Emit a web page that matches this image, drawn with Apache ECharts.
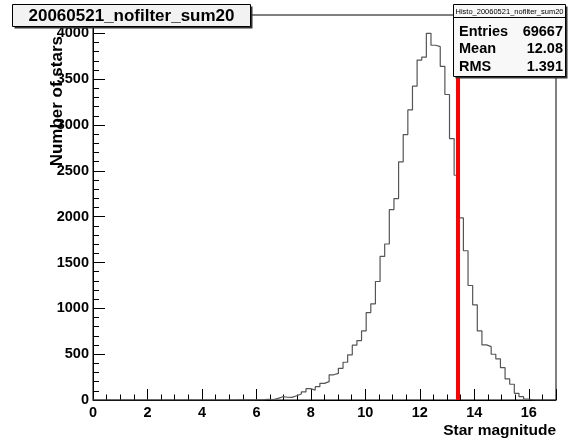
<!DOCTYPE html>
<html>
<head>
<meta charset="utf-8">
<script src="https://cdn.jsdelivr.net/npm/echarts@6/dist/echarts.min.js"></script>
<style>
  html, body { margin: 0; padding: 0; background: #fff; }
  #histoContainer { width: 571px; height: 441px; }
</style>
</head>
<body>
<div id="histoContainer"></div>
<script>
// histogram binning (100 bins over 0..17)
const binLow = 0;
const binWidth = 0.17;
const binCount = 100;
// entries per bin
const starCounts = [
  0, 0, 0, 0, 0, 0, 0, 0, 0, 0,
  0, 0, 0, 0, 0, 0, 0, 0, 0, 0,
  0, 0, 0, 0, 0, 0, 0, 0, 0, 0,
  0, 1, 1, 2, 2, 3, 4, 8, 5, 18,
  36, 30, 28, 47, 66, 88, 124, 108, 145, 182,
  200, 275, 290, 346, 412, 492, 598, 648, 754, 954,
  1049, 1293, 1566, 1702, 2077, 2197, 2598, 2896, 3165, 3424,
  3708, 3740, 4000, 3870, 3855, 3640, 3333, 2852, 2452, 1986,
  1628, 1249, 1038, 754, 601, 582, 499, 448, 353, 230,
  172, 73, 36, 11, 3, 0, 0, 0, 0, 0
];
// red cut line
const cutMagnitude = 13.4;
// stats box
const histoName = "Histo_20060521_nofilter_sum20";
const statsLabels = ["Entries", "Mean", "RMS"];
const statsValues = ["69667", "12.08", "1.391"];
const titleText = "20060521_nofilter_sum20";
const xTitle = "Star magnitude";
const yTitle = "Number of stars";

const fontFam = "'Liberation Sans', Arial, sans-serif";

// step outline points: left edge of each bin + right edge of the last one
let stepData = [];
for (let i = 0; i < binCount; i++) {
  stepData.push([binLow + i * binWidth, starCounts[i]]);
}
stepData.push([binLow + binCount * binWidth, starCounts[binCount - 1]]);

let chart = echarts.init(document.getElementById("histoContainer"));

function boxWithShadow(x, y, w, h, fill) {
  return [
    { type: "rect", z: 100, silent: true,
      shape: { x: x + 2, y: y + 2, width: w, height: h },
      style: { fill: "#333", stroke: null } },
    { type: "rect", z: 101, silent: true,
      shape: { x: x, y: y, width: w, height: h },
      style: { fill: fill, stroke: "#000", lineWidth: 1 } }
  ];
}

let graphics = [];
// title box
graphics = graphics.concat(boxWithShadow(12.5, 4.5, 238, 22, "#f2f2f2"));
graphics.push({ type: "text", z: 102, silent: true, x: 131.5, y: 16.5,
  style: { text: titleText, fill: "#000", font: "bold 17px " + fontFam,
    textAlign: "center", textVerticalAlign: "middle" } });
// stats box
graphics = graphics.concat(boxWithShadow(453.5, 4.5, 112, 72, "#f8f8f8"));
graphics.push({ type: "line", z: 102, silent: true,
  shape: { x1: 453.5, y1: 17.5, x2: 565.5, y2: 17.5 },
  style: { stroke: "#000", lineWidth: 1 } });
graphics.push({ type: "text", z: 102, silent: true, x: 509.5, y: 11.5,
  style: { text: histoName, fill: "#000", font: "7.5px " + fontFam,
    textAlign: "center", textVerticalAlign: "middle" } });
for (let k = 0; k < statsLabels.length; k++) {
  let ty = 31.5 + k * 17.5;
  graphics.push({ type: "text", z: 102, silent: true, x: 459, y: ty,
    style: { text: statsLabels[k], fill: "#000", font: "bold 14.5px " + fontFam,
      textAlign: "left", textVerticalAlign: "middle" } });
  graphics.push({ type: "text", z: 102, silent: true, x: 563, y: ty,
    style: { text: statsValues[k], fill: "#000", font: "bold 14.5px " + fontFam,
      textAlign: "right", textVerticalAlign: "middle" } });
}
// axis titles
graphics.push({ type: "text", z: 50, silent: true, x: 57, y: 36, rotation: Math.PI / 2,
  style: { text: yTitle, fill: "#000", font: "bold 17px " + fontFam,
    textAlign: "right", textVerticalAlign: "middle" } });
graphics.push({ type: "text", z: 50, silent: true, x: 556, y: 431,
  style: { text: xTitle, fill: "#000", font: "bold 15.5px " + fontFam,
    textAlign: "right", textVerticalAlign: "middle" } });

let axisLine = { show: true, lineStyle: { color: "#000", width: 1 } };

let option = {
  animation: false,
  backgroundColor: "#fff",
  grid: {
    left: 93, top: 15, width: 463, height: 385,
    show: true, borderColor: "#000", borderWidth: 1, backgroundColor: "transparent"
  },
  xAxis: [
    {
      type: "value", position: "bottom", min: 0, max: 17, interval: 2,
      axisLine: axisLine,
      axisTick: { show: true, inside: true, length: 11, lineStyle: { color: "#000" } },
      axisLabel: {
        color: "#000", fontFamily: fontFam, fontWeight: "bold", fontSize: 14.5, margin: 5,
        formatter: function (v) { return v > 16.5 ? "" : String(v); }
      },
      splitLine: { show: false }
    },
    {
      type: "value", position: "bottom", min: 0, max: 17, interval: 0.5,
      axisLine: { show: false },
      axisTick: { show: true, inside: true, length: 5.5, lineStyle: { color: "#000" } },
      axisLabel: { show: false },
      splitLine: { show: false }
    }
  ],
  yAxis: [
    {
      type: "value", position: "left", min: 0, max: 4200, interval: 500,
      axisLine: axisLine,
      axisTick: { show: true, inside: true, length: 12, lineStyle: { color: "#000" } },
      axisLabel: {
        color: "#000", fontFamily: fontFam, fontWeight: "bold", fontSize: 14.5, margin: 4,
        formatter: function (v) { return v > 4000 ? "" : String(v); }
      },
      splitLine: { show: false }
    },
    {
      type: "value", position: "left", min: 0, max: 4200, interval: 100,
      axisLine: { show: false },
      axisTick: { show: true, inside: true, length: 6, lineStyle: { color: "#000" } },
      axisLabel: { show: false },
      splitLine: { show: false }
    }
  ],
  series: [
    {
      name: histoName,
      type: "line",
      xAxisIndex: 0,
      yAxisIndex: 0,
      step: "end",
      symbol: "none",
      silent: true,
      data: stepData,
      lineStyle: { color: "#555", width: 1.2 },
      markLine: {
        silent: true,
        symbol: "none",
        label: { show: false },
        lineStyle: { color: "#ff0000", width: 4, type: "solid" },
        data: [{ xAxis: cutMagnitude }]
      }
    }
  ],
  graphic: graphics
};

chart.setOption(option);
</script>
</body>
</html>
